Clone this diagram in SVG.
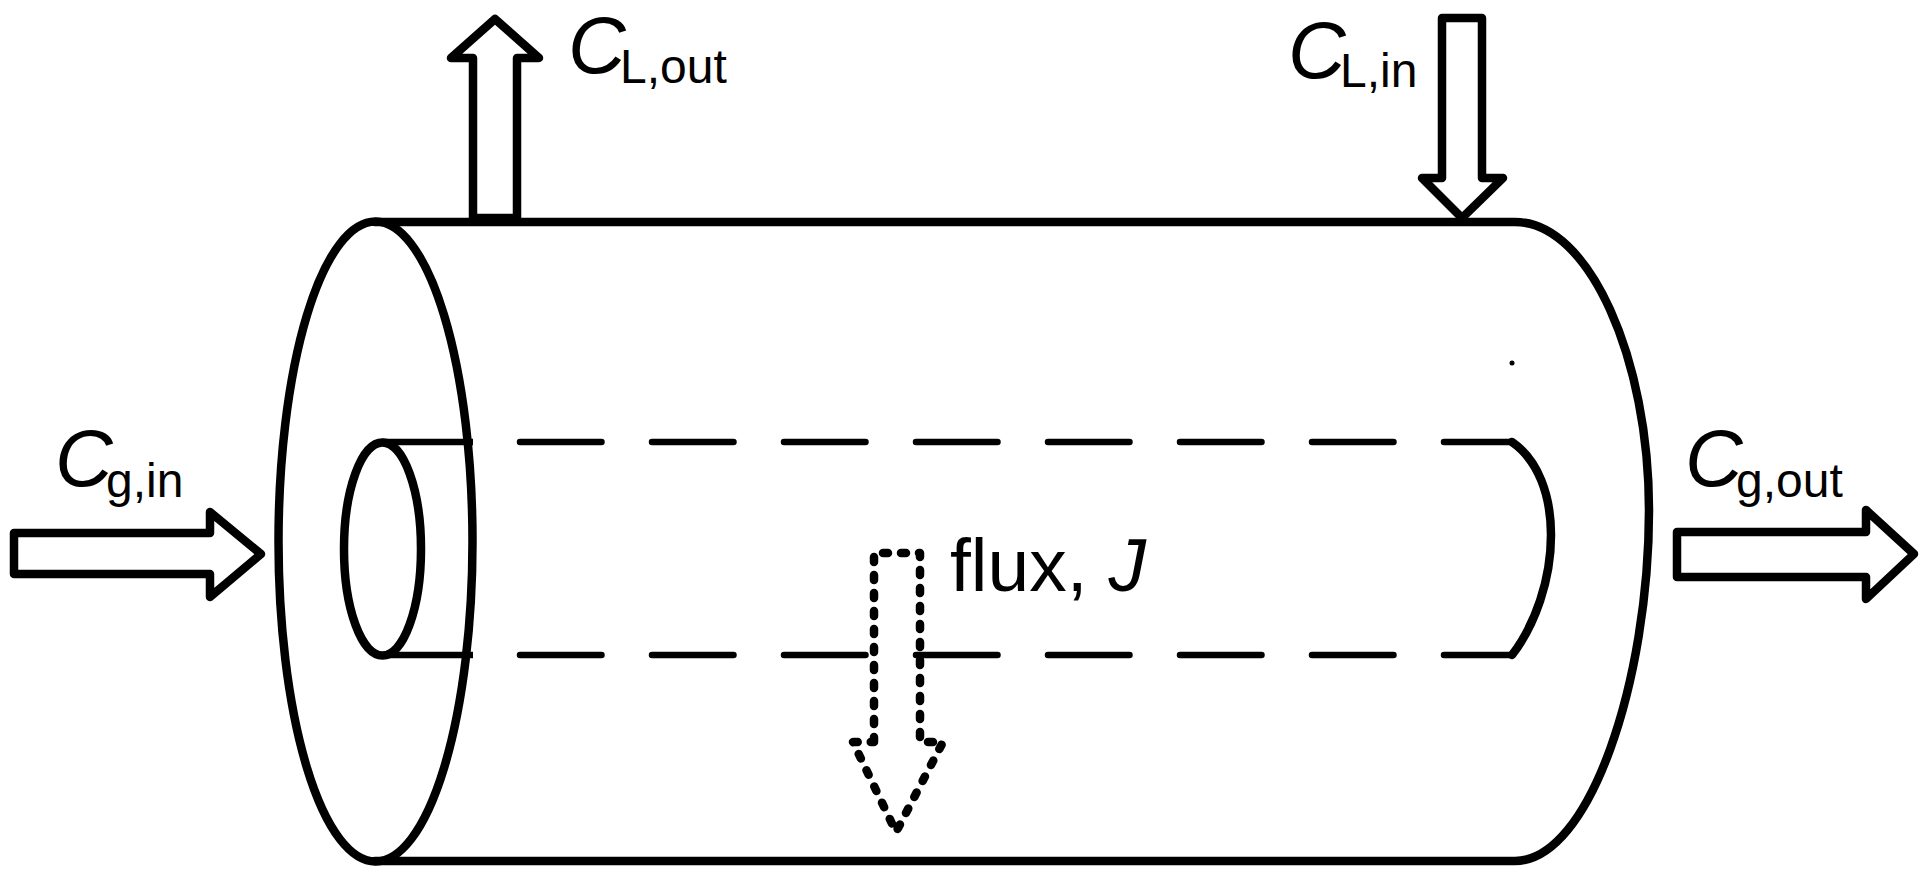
<svg xmlns="http://www.w3.org/2000/svg" width="1931" height="886" viewBox="0 0 1931 886">
<style>
.l{fill:none;stroke:#000;stroke-width:8.5;stroke-linejoin:round;stroke-linecap:round}
.t{fill:none;stroke:#000;stroke-width:6.5;stroke-linecap:butt}
.d{stroke-dasharray:81.5 50.5;stroke-linecap:round}
.a{fill:none;stroke:#000;stroke-width:8.5;stroke-linejoin:round;stroke-linecap:round}
.f{fill:none;stroke:#000;stroke-width:8.5;stroke-linecap:round;stroke-linejoin:round;stroke-dasharray:5 13}
text{font-family:"Liberation Sans",Arial,sans-serif;fill:#000}
.c{font-size:80px;font-style:italic}
.s{font-size:48px}
</style>
<rect width="1931" height="886" fill="#fff"/>
<g id="cylinder">
<ellipse class="l" cx="375.5" cy="541.5" rx="97" ry="320"/>
<path class="l" d="M375 222H1515C1590 222 1649 360 1649 510C1649 680 1590 861 1515 861H375"/>
<ellipse class="l" cx="382.5" cy="549" rx="38.5" ry="106.5"/>
<path class="t" d="M382 442H473M382 655H473"/>
<path class="t d" d="M520 442H1512M520 655H1512"/>
<path class="l" d="M1512 442C1538 460 1551 495 1551 535C1551 580 1535 625 1512 655"/>
<circle cx="1512" cy="363" r="2.5" fill="#000"/>
</g>
<g id="connectors">
<path id="arrow-l-out" class="a" d="M473 218V58H451L495 19L539 58H517V218Z"/>
<path id="arrow-l-in" class="a" d="M1442 18H1482V178H1503L1462 218L1422 178H1442Z"/>
<path id="arrow-g-in" class="a" d="M14 533H210V512L261 554L210 597V574H14Z"/>
<path id="arrow-g-out" class="a" d="M1677 532H1866V510L1914 554L1866 599V577H1677Z"/>
<path id="arrow-flux" class="f" d="M874 742V553H920V742H943L896 832L853 742Z"/>
</g>
<g id="label-l-out"><text class="c" x="568" y="73">C</text><text class="s" x="620" y="83">L,out</text></g>
<g id="label-l-in"><text class="c" x="1288" y="78">C</text><text class="s" x="1340" y="87">L,in</text></g>
<g id="label-g-in"><text class="c" x="55" y="486">C</text><text class="s" x="106" y="497">g,in</text></g>
<g id="label-g-out"><text class="c" x="1685" y="486">C</text><text class="s" x="1736" y="497">g,out</text></g>
<g id="label-flux"><text x="950" y="591" font-size="75">flux, <tspan font-style="italic">J</tspan></text></g>
</svg>
